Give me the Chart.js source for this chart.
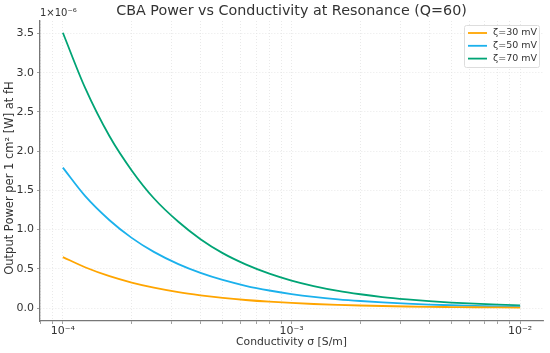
<!DOCTYPE html>
<html>
<head>
<meta charset="utf-8">
<script src="https://cdn.jsdelivr.net/npm/chart.js@4.4.0/dist/chart.umd.min.js"></script>
<style>
  html, body { margin: 0; padding: 0; background: #fff; }
  #wrap { width: 550px; height: 353px; }
</style>
</head>
<body>
<div id="wrap"><canvas id="cbaChart" width="550" height="353"></canvas></div>
<script>
// conductivity sigma [S/m]
var sigma = [1e-4, 1.25e-4, 1.6e-4, 2e-4, 2.5e-4, 3.2e-4, 4e-4, 5e-4, 6.3e-4, 8e-4,
             1e-3, 1.25e-3, 1.6e-3, 2e-3, 2.5e-3, 3.2e-3, 4e-3, 5e-3, 6.3e-3, 8e-3, 1e-2];

// output power, units of 1e-6 W
var zeta30 = [0.65, 0.52, 0.406, 0.325, 0.26, 0.203, 0.163, 0.13, 0.103, 0.081,
              0.065, 0.052, 0.041, 0.0325, 0.026, 0.020, 0.016, 0.013, 0.010, 0.008, 0.0065];
var zeta50 = [1.79, 1.43, 1.12, 0.895, 0.716, 0.56, 0.448, 0.358, 0.284, 0.224,
              0.179, 0.143, 0.112, 0.09, 0.072, 0.056, 0.045, 0.036, 0.028, 0.022, 0.018];
var zeta70 = [3.51, 2.81, 2.19, 1.755, 1.40, 1.10, 0.878, 0.70, 0.557, 0.439,
              0.351, 0.281, 0.219, 0.176, 0.140, 0.110, 0.088, 0.070, 0.056, 0.044, 0.035];

var seriesNames = ["ζ=30 mV", "ζ=50 mV", "ζ=70 mV"];
var seriesColors = ["#ffa500", "#1bb1ec", "#00a475"];
var yTicks = [0, 0.5, 1.0, 1.5, 2.0, 2.5, 3.0, 3.5];
var decadeLabels = { "-4": "10\u207B\u2074", "-3": "10\u207B\u00B3", "-2": "10\u207B\u00B2" };

var titleText = "CBA Power vs Conductivity at Resonance (Q=60)";
var xTitle = "Conductivity σ [S/m]";
var yTitle = "Output Power per 1 cm² [W] at fH";
var offsetText = "1×10\u207B\u2076";

var FONT = "'DejaVu Sans', sans-serif";

function toPoints(ys) {
    return sigma.map(function(s, i) { return { x: s, y: ys[i] }; });
}

// text drawn by hand: title, axis titles, offset text, legend
var textPlugin = {
    id: "textPlugin",
    afterDraw: function(chart) {
        var ctx = chart.ctx;
        var area = chart.chartArea;
        var cx = (area.left + area.right) / 2;
        ctx.save();
        ctx.fillStyle = "#333";
        ctx.textAlign = "center";
        ctx.textBaseline = "middle";

        ctx.font = "14.3px " + FONT;
        ctx.fillText(titleText, cx, 11);

        ctx.font = "10.8px " + FONT;
        ctx.fillText(xTitle, cx, 342);

        ctx.save();
        ctx.translate(10, 178);
        ctx.rotate(-Math.PI / 2);
        ctx.font = "11.5px " + FONT;
        ctx.fillText(yTitle, 0, 0);
        ctx.restore();

        ctx.textAlign = "left";
        ctx.font = "10px " + FONT;
        ctx.fillText(offsetText, 40, 13);

        // legend
        var bx = 464, by = 25, bw = 75, bh = 42;
        ctx.fillStyle = "rgba(255,255,255,0.85)";
        ctx.strokeStyle = "#dddddd";
        ctx.lineWidth = 1;
        ctx.beginPath();
        ctx.roundRect(bx + 0.5, by + 0.5, bw, bh, 2);
        ctx.fill();
        ctx.stroke();
        ctx.font = "9.5px " + FONT;
        for (var i = 0; i < seriesNames.length; i++) {
            var ry = 33 + i * 12.8;
            ctx.strokeStyle = seriesColors[i];
            ctx.lineWidth = 1.8;
            ctx.beginPath();
            ctx.moveTo(468, ry);
            ctx.lineTo(487, ry);
            ctx.stroke();
            ctx.fillStyle = "#333";
            ctx.fillText(seriesNames[i], 493, ry);
        }
        ctx.restore();
    }
};

var ctx = document.getElementById("cbaChart");

new Chart(ctx, {
    type: "line",
    data: {
        datasets: [
            { label: seriesNames[0], data: toPoints(zeta30), borderColor: seriesColors[0] },
            { label: seriesNames[1], data: toPoints(zeta50), borderColor: seriesColors[1] },
            { label: seriesNames[2], data: toPoints(zeta70), borderColor: seriesColors[2] }
        ]
    },
    options: {
        responsive: false,
        animation: false,
        layout: { padding: { top: 21, right: 7, left: 0, bottom: 0 } },
        elements: {
            point: { radius: 0 },
            line: { borderWidth: 1.8, cubicInterpolationMode: "monotone", fill: false }
        },
        plugins: {
            legend: { display: false },
            title: { display: false },
            tooltip: { enabled: false }
        },
        scales: {
            x: {
                type: "logarithmic",
                min: Math.pow(10, -4.1),
                max: Math.pow(10, -1.9),
                afterBuildTicks: function(scale) {
                    var t = [];
                    for (var e = -5; e <= -2; e++) {
                        for (var k = 1; k <= 9; k++) {
                            var v = k * Math.pow(10, e);
                            if (v >= scale.min && v <= scale.max) t.push({ value: v, major: k === 1 });
                        }
                    }
                    scale.ticks = t;
                },
                afterFit: function(scale) { scale.height = 32; },
                ticks: {
                    autoSkip: false,
                    maxRotation: 0,
                    padding: 1,
                    color: "#333",
                    font: { family: FONT, size: 11 },
                    callback: function(value) {
                        var e = Math.round(Math.log10(value));
                        if (Math.abs(value - Math.pow(10, e)) < 1e-12 && decadeLabels[e]) return decadeLabels[e];
                        return "";
                    }
                },
                grid: { color: "#e3e3e3", lineWidth: 0.8, drawTicks: true, tickLength: 3, tickColor: "#888", tickWidth: 0.8 },
                border: { color: "#777", width: 1.3, dash: [1, 2] }
            },
            y: {
                type: "linear",
                min: -0.165,
                max: 3.66,
                afterBuildTicks: function(scale) {
                    scale.ticks = yTicks.map(function(v) { return { value: v }; });
                },
                afterFit: function(scale) { scale.width = 40; },
                ticks: {
                    padding: 3,
                    color: "#333",
                    font: { family: FONT, size: 11 },
                    callback: function(value) { return value.toFixed(1); }
                },
                grid: { color: "#e3e3e3", lineWidth: 0.8, drawTicks: true, tickLength: 3, tickColor: "#888", tickWidth: 0.8 },
                border: { color: "#777", width: 1.3, dash: [1, 2] }
            }
        }
    },
    plugins: [textPlugin]
});
</script>
</body>
</html>
